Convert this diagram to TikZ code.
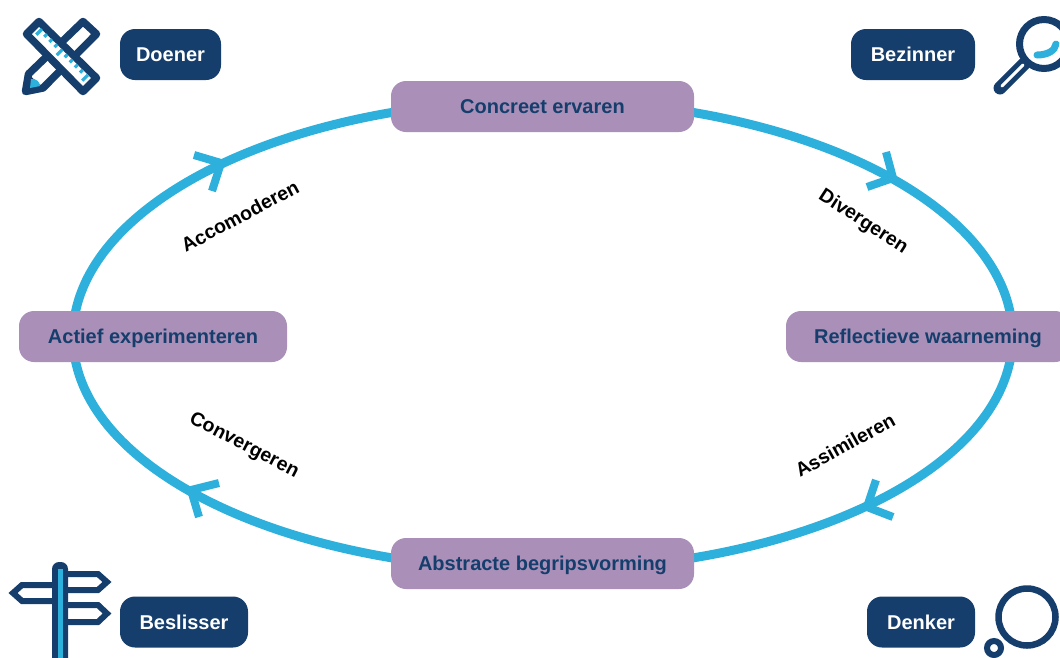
\documentclass[tikz,border=0pt]{standalone}
\usepackage{fontspec}
\usetikzlibrary{calc}
\setmainfont{Liberation Sans}
\definecolor{navy}{HTML}{153E6C}
\definecolor{sky}{HTML}{2DB0DB}
\definecolor{mauve}{HTML}{AA90B8}
\pgfdeclarelayer{back}
\pgfsetlayers{back,main}
\tikzset{
  x=1pt,y=-1pt,
  stepbox/.style={fill=mauve,rounded corners=15pt,minimum height=51pt,inner sep=0pt,text=navy,text height=14.3pt,text depth=0pt,font=\bfseries\fontsize{20}{24}\selectfont},
  rolebox/.style={fill=navy,rounded corners=15pt,minimum height=51pt,inner sep=0pt,text=white,text height=14.3pt,text depth=0pt,font=\bfseries\fontsize{20}{24}\selectfont},
  edgelabel/.style={text=black,inner sep=0pt,font=\bfseries\fontsize{19.5}{22}\selectfont},
  cycle/.style={draw=sky,line width=9pt},
  chev/.style={draw=sky,line width=8pt,line join=miter},
  icon/.style={draw=navy,line width=7.5pt,line join=round,line cap=round},
}
\begin{document}
\begin{tikzpicture}
\useasboundingbox (0,0) rectangle (1060,657);
\clip (0,0) rectangle (1060,657);
% steps
\node[stepbox,minimum width=303pt] (top) at (542.5,106.5) {Concreet ervaren};
\node[stepbox,minimum width=303pt] (bottom) at (542.5,563.5) {Abstracte begripsvorming};
\node[stepbox,minimum width=268pt] (left) at (153,336.5) {Actief experimenteren};
\node[stepbox,minimum width=284pt] (right) at (928,336.5) {Reflectieve waarneming};
% roles
\node[rolebox,minimum width=101pt] (doener) at (170.5,54.5) {Doener};
\node[rolebox,minimum width=124pt] (bezinner) at (913,54.5) {Bezinner};
\node[rolebox,minimum width=128pt] (beslisser) at (184,622) {Beslisser};
\node[rolebox,minimum width=108pt] (denker) at (921,622) {Denker};
% labels
\node[edgelabel,rotate=28] (l1) at (240,216) {Accomoderen};
\node[edgelabel,rotate=-33] (l2) at (863,222) {Divergeren};
\node[edgelabel,rotate=-27.5] (l3) at (244,446) {Convergeren};
\node[edgelabel,rotate=29] (l4) at (845,445) {Assimileren};
% cycle
\begin{pgfonlayer}{back}
\coordinate (tx) at ($(top.center)+(0,-6.5)$);
\coordinate (bx) at ($(bottom.center)+(0,6.5)$);
\coordinate (rx) at ($(right.center)+(84.5,0)$);
\coordinate (lx) at ($(left.center)+(-80,0)$);
\draw[cycle] (tx) .. controls +(259.6,0) and +(0,-130.3) .. (rx);
\draw[cycle] (rx) .. controls +(0,130.3) and +(259.6,0) .. (bx);
\draw[cycle] (bx) .. controls +(-259.6,0) and +(0,130.3) .. (lx);
\draw[cycle] (lx) .. controls +(0,-130.3) and +(-259.6,0) .. (tx);
\end{pgfonlayer}
% arrowheads
\draw[chev] (194,155) -- (221,163) -- (212,191);
\draw[chev] (886,152) -- (893,178) -- (867,187);
\draw[chev] (876,480) -- (867,507) -- (893,517);
\draw[chev] (219,483) -- (191,490) -- (199,517);
% Doener icon: pencil then ruler
\draw[icon,fill=white] (83,21.5) -- (96.5,34) -- (43,88) -- (25.5,91.5) -- (28.5,74) -- cycle;
\fill[navy] (28.5,74) -- (43,88) -- (25.5,91.5) -- cycle;
\fill[sky] (31,79) .. controls (36,78) and (40,82) .. (40,86) -- (30,88) -- cycle;
\draw[icon,fill=white] (39,21.5) -- (26.5,34) -- (83,91.5) -- (96.5,78) -- cycle;
\foreach \t/\l in {0/8,1/4,2/4,3/4,4/8,5/4,6/4,7/4,8/4,9/8}{
  \draw[sky,line width=3.2pt] ($(42,29)+(\t*5.1,\t*5.1)$) -- ++({-\l*.707},{\l*.707});
}
% Bezinner icon
\draw[navy,line width=13pt,line cap=round] (1024,64) -- (1000,88);
\draw[white,line width=3pt,line cap=round] (1023,65) -- (1002,86);
\draw[navy,line width=7pt,fill=white] (1044,44) circle (24.5);
\draw[sky,line width=7pt,line cap=round] (1037,55) .. controls (1047,55) and (1055,51) .. (1056,44);
% Beslisser icon
\draw[icon,line width=6pt,line join=miter,line cap=butt] (66,574) -- (98,574) -- (107,582) -- (98,590) -- (66,590);
\draw[icon,line width=6pt,line join=miter,line cap=butt] (66,605) -- (98,605) -- (107,613.5) -- (98,622) -- (66,622);
\draw[icon,line width=6pt,line join=miter,line cap=butt] (54,585) -- (22,585) -- (13,593) -- (22,601) -- (54,601);
\fill[navy,rounded corners=7pt] (52,670) -- (52,562) -- (68,562) -- (68,670) -- cycle;
\fill[sky] (58,569) rectangle (62.5,660);
% Denker icon
\draw[navy,line width=6.5pt] (1027,617) circle (28.5);
\draw[navy,line width=6pt] (994,648) circle (7);
\end{tikzpicture}
\end{document}
